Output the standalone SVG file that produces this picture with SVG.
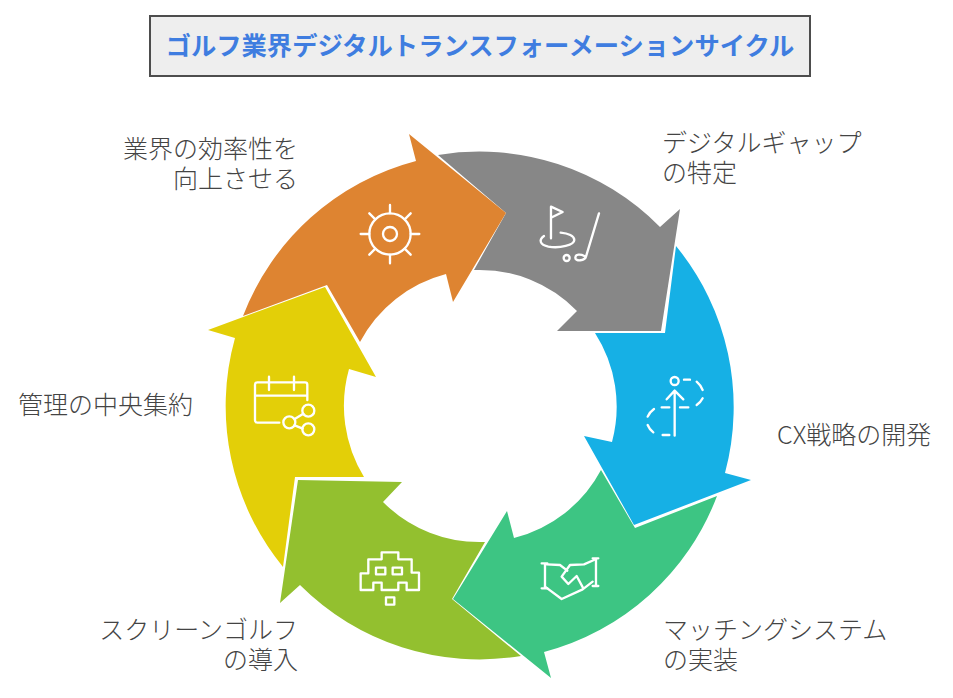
<svg xmlns="http://www.w3.org/2000/svg" width="953" height="698" viewBox="0 0 953 698">
<style>
.lbl{font-family:"Noto Sans CJK JP","Noto Sans CJK SC",sans-serif;font-size:25px;font-weight:300;fill:#444}
.end{text-anchor:end}
.ttl{font-family:"Noto Sans CJK JP","Noto Sans CJK SC",sans-serif;font-size:25.3px;font-weight:700;fill:#3f7de0;text-anchor:middle}
.ic{fill:none;stroke:#fff;stroke-width:7;stroke-linecap:round;stroke-linejoin:round}
</style>
<rect width="953" height="698" fill="#fff"/>
<g id="title">
<rect x="150" y="16" width="660" height="60" fill="#eeeeee" stroke="#4d4d4d" stroke-width="2"/>
<text class="ttl" x="480" y="55">ゴルフ業界デジタルトランスフォーメーションサイクル</text>
</g>
<g id="node-gap">
<path d="M438 155A254 254 0 0 1 660 227L680 209L661 331L557 331L577 311A136 136 0 0 0 474 270L506 213Z" fill="#878787"/>
<g class="ic" transform="translate(340 130) scale(.3333)">
<path d="M633 325V230L668 246L636 262"/>
<path d="M612 318C595 330 600 345 625 350C660 356 703 345 703 330C703 318 685 310 662 308"/>
<path d="M777 250L738 380C735 392 706 396 706 383C706 372 722 372 733 378"/>
<circle cx="680" cy="384" r="9"/>
</g>
<text class="lbl"><tspan x="662" y="152">デジタルギャップ</tspan><tspan x="662" y="182">の特定</tspan></text>
</g>
<g id="node-cx">
<path d="M676 246A254 254 0 0 1 725 473L751 480L634 525L584 436L612 442A136 136 0 0 0 595 333L665 333Z" fill="#16b0e5"/>
<g class="ic" transform="translate(580 340) scale(.3333)">
<circle cx="284" cy="123" r="12"/>
<path d="M284 287V152M260 178L284 152L310 178"/>
<path d="M245 202H268M300 202H325M312 119H330M350 125Q362 135 368 150M368 175Q362 187 350 195M222 207Q208 217 203 230M203 255Q208 268 220 277M248 285H268"/>
</g>
<text class="lbl" x="777" y="444">CX戦略の開発</text>
</g>
<g id="node-matching">
<path d="M601 470L635 528L717 496A254 254 0 0 1 544 652L551 678L453 599L507 511L514 538A136 136 0 0 0 601 470Z" fill="#3dc583"/>
<g class="ic" transform="translate(450 470) scale(.3333)">
<path d="M275 280H292M275 355H292M285 280V355M428 265H445M428 348H445M438 265V348"/>
<path d="M290 283L330 285L352 302M432 270L402 283L360 285L335 320L355 342L380 318L400 355M428 335L398 358L335 387L285 350"/>
</g>
<text class="lbl"><tspan x="663" y="639">マッチングシステム</tspan><tspan x="663" y="669">の実装</tspan></text>
</g>
<g id="node-screen">
<path d="M298 480L402 482L383 502A136 136 0 0 0 485 542L452 599L521 656A254 254 0 0 1 300 585L280 603Z" fill="#93c02f"/>
<g class="ic" transform="translate(270 470) scale(.3333)">
<path d="M335 268V247H385V268H425V308H447V360H410V338H385V360H335V338H310V360H272V310H295V268Z"/>
<rect x="318" y="293" width="28" height="20"/>
<rect x="368" y="293" width="28" height="20"/>
<rect x="348" y="382" width="25" height="22"/>
</g>
<text class="lbl end"><tspan x="298" y="639">スクリーンゴルフ</tspan><tspan x="298" y="669">の導入</tspan></text>
</g>
<g id="node-central">
<path d="M325 287L376 377L349 369A136 136 0 0 0 364 477L295 477L283 567A254 254 0 0 1 235 338L208 330Z" fill="#e3cf08"/>
<g class="ic" transform="translate(220 280) scale(.3333)">
<path d="M178 428H112Q105 428 105 421V314Q105 307 112 307H255Q262 307 262 314V360M105 347H262M147 290V330M222 290V330"/>
<circle cx="208" cy="427" r="18"/>
<circle cx="265" cy="392" r="18"/>
<circle cx="265" cy="448" r="18"/>
<path d="M224 417L250 401M224 436L248 446"/>
</g>
<text class="lbl" x="18" y="414">管理の中央集約</text>
</g>
<g id="node-efficiency">
<path d="M243 316L327 285L360 342A136 136 0 0 1 446 274L453 302L506 213L409 134L416 161A254 254 0 0 0 243 316Z" fill="#de8431"/>
<g class="ic" transform="translate(340 130) scale(.3333)">
<circle cx="150" cy="312" r="62"/>
<circle cx="150" cy="312" r="21"/>
<path d="M150 225V250M150 374V400M62 312H88M212 312H238M88 250L106 268M212 250L194 268M88 374L106 356M212 374L194 356"/>
</g>
<text class="lbl end"><tspan x="298" y="158">業界の効率性を</tspan><tspan x="298" y="188">向上させる</tspan></text>
</g>
</svg>
